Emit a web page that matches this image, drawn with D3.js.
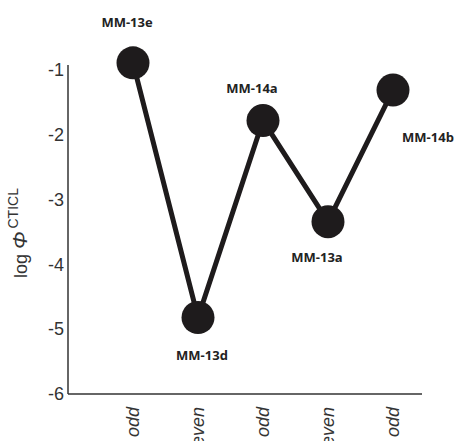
<!DOCTYPE html>
<html><head><meta charset="utf-8">
<script src="https://cdn.jsdelivr.net/npm/d3@7"></script>
<style>body{margin:0;background:#fff}svg{display:block}</style>
</head><body>
<svg id="c" width="456" height="441"></svg>
<script>
const categories = ["odd","even","odd","even","odd"];
const sampleNames = ["MM-13e","MM-13d","MM-14a","MM-13a","MM-14b"];
const logPhi = [-0.89, -4.82, -1.78, -3.34, -1.31];
const yTicks = [-1,-2,-3,-4,-5,-6];
// label offsets (layout only)
const labelOffsets = [[-6,-36],[4,42],[-11,-28],[-11,40],[35,52]];

const svg = d3.select("#c");
const x = d3.scalePoint().domain(d3.range(categories.length)).range([133, 393]);
const y = d3.scaleLinear().domain([-6, -1]).range([394, 70]);

// axes lines
svg.append("line").attr("x1",68).attr("x2",68).attr("y1",65).attr("y2",y(-6))
  .attr("stroke","#333").attr("stroke-width",1.5);
svg.append("line").attr("x1",68).attr("x2",422).attr("y1",y(-6)).attr("y2",y(-6))
  .attr("stroke","#333").attr("stroke-width",1.5);

// y axis ticks
const ya = svg.append("g").attr("transform","translate(64,0)")
  .call(d3.axisLeft(y).tickValues(yTicks).tickSize(0).tickPadding(0).tickFormat(d=>String(d)));
ya.select(".domain").remove();
ya.selectAll("text").attr("font-family","Liberation Sans, Arial, sans-serif").attr("font-size",18).attr("fill","#333");

// x labels
svg.append("g").selectAll("text").data(categories).join("text")
  .attr("transform",(d,i)=>`translate(${x(i)+6},407) rotate(-90)`)
  .attr("text-anchor","end")
  .attr("font-family","Liberation Sans, Arial, sans-serif").attr("font-style","italic")
  .attr("font-size",18).attr("fill","#333").text(d=>d);

// y title
const t = svg.append("text").attr("transform","translate(27,233) rotate(-90)")
  .attr("text-anchor","middle").attr("font-family","Liberation Sans, Arial, sans-serif")
  .attr("font-size",18).attr("fill","#333");
t.append("tspan").text("log ");
t.append("tspan").attr("font-style","italic").attr("font-size",21).text("\u03A6");
t.append("tspan").attr("font-size",14).attr("dy",-9).text("\u2009CTICL");

// line
const line = d3.line().x((d,i)=>x(i)).y(d=>y(d));
svg.append("path").datum(logPhi).attr("d",line).attr("fill","none")
  .attr("stroke","#1e1b1c").attr("stroke-width",5);

svg.append("g").selectAll("circle").data(logPhi).join("circle")
  .attr("cx",(d,i)=>x(i)).attr("cy",d=>y(d)).attr("r",16.5).attr("fill","#1e1b1c");

svg.append("g").selectAll("text").data(sampleNames).join("text")
  .attr("x",(d,i)=>x(i)+labelOffsets[i][0]).attr("y",(d,i)=>y(logPhi[i])+labelOffsets[i][1])
  .attr("text-anchor","middle").attr("font-family","Open Sans, sans-serif").attr("font-weight","bold")
  .attr("font-size",13).attr("fill","#222").text(d=>d);
</script>
</body></html>
